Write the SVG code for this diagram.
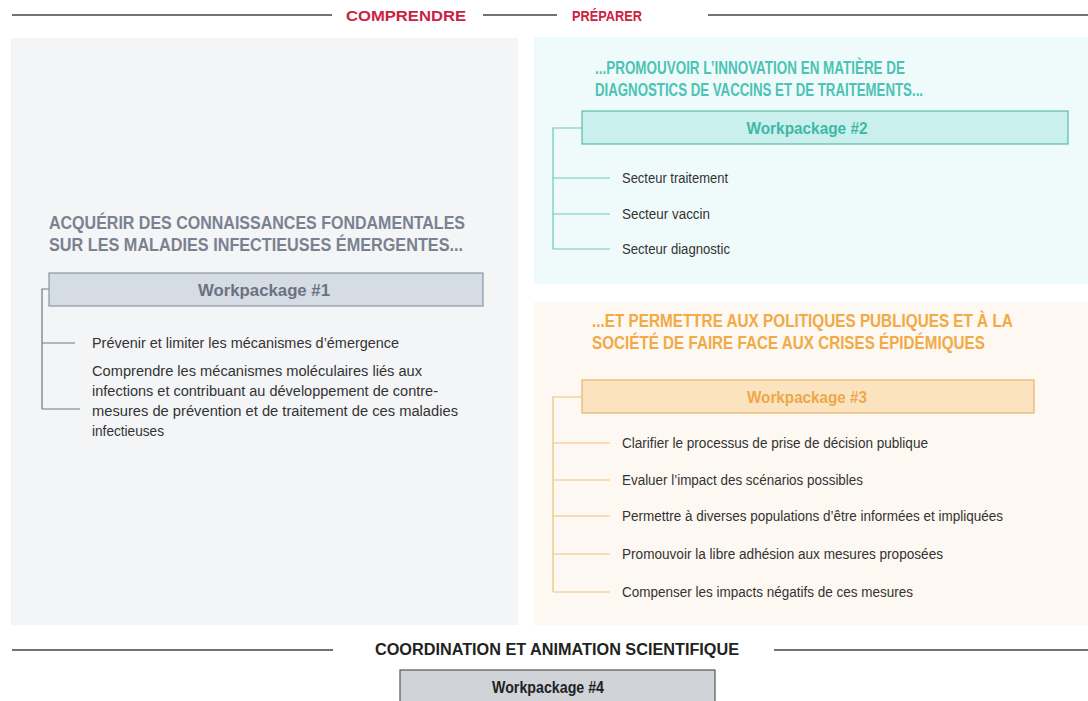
<svg xmlns="http://www.w3.org/2000/svg" width="1088" height="701" viewBox="0 0 1088 701">
<style>
.t{font-family:"Liberation Sans Narrow","Liberation Sans",Arial,sans-serif}
.sec{font-size:15px;font-weight:bold;fill:#cc2142}
.head{font-size:19px;font-weight:bold}
.wp{font-size:17px;font-weight:bold;text-anchor:middle}
.item{font-size:14px;fill:#333}
.ln{stroke:#444;stroke-width:1.3;fill:none}
</style>
<rect width="1088" height="701" fill="#ffffff"/>
<g id="panels">
<rect x="11" y="38" width="507" height="587" fill="#f4f5f7"/>
<rect x="534" y="37" width="554" height="247" fill="#effbfa"/>
<rect x="534" y="302" width="554" height="323" fill="#fdf8f1"/>
</g>
<g id="section-titles">
<line class="ln" x1="12" y1="15" x2="332" y2="15"/>
<text class="t sec" x="346" y="21" textLength="120" lengthAdjust="spacingAndGlyphs">COMPRENDRE</text>
<line class="ln" x1="483" y1="15" x2="557" y2="15"/>
<text class="t sec" x="572" y="21" textLength="70" lengthAdjust="spacingAndGlyphs">PRÉPARER</text>
<line class="ln" x1="708" y1="15" x2="1088" y2="15"/>
<line class="ln" x1="12" y1="650" x2="333" y2="650"/>
<text class="t" x="375" y="655" font-size="16" font-weight="bold" fill="#222" textLength="364" lengthAdjust="spacingAndGlyphs">COORDINATION ET ANIMATION SCIENTIFIQUE</text>
<line class="ln" x1="774" y1="650" x2="1088" y2="650"/>
</g>
<g id="connectors" fill="none">
<path d="M49 289 H42 V409 M42 343 H75 M42 409 H80" stroke="#6f7888" stroke-width="1.2"/>
<path d="M582 128 H553 V249 M553 178 H610 M553 214 H610 M553 249 H610" stroke="#6cc7bd" stroke-width="1.2"/>
<path d="M582 397 H553 V592 M553 443 H610 M553 480 H610 M553 516 H610 M553 554 H610 M553 592 H610" stroke="#efc27a" stroke-width="1.2"/>
</g>
<g id="wp1">
<text class="t head" x="49" y="229" fill="#7a8290" textLength="416" lengthAdjust="spacingAndGlyphs">ACQUÉRIR DES CONNAISSANCES FONDAMENTALES</text>
<text class="t head" x="49" y="251" fill="#7a8290" textLength="414" lengthAdjust="spacingAndGlyphs">SUR LES MALADIES INFECTIEUSES ÉMERGENTES...</text>
<rect x="49" y="273" width="434" height="33" fill="#d6dce4" stroke="#8a95a5" stroke-width="1.2"/>
<text class="t wp" x="264" y="296" fill="#6b7280" textLength="132" lengthAdjust="spacingAndGlyphs">Workpackage #1</text>
<text class="t item" x="92" y="348" textLength="307" lengthAdjust="spacingAndGlyphs">Prévenir et limiter  les mécanismes  d’émergence</text>
<text class="t item" x="92" y="376" textLength="330" lengthAdjust="spacingAndGlyphs">Comprendre les mécanismes  moléculaires  liés aux</text>
<text class="t item" x="92" y="396" textLength="346" lengthAdjust="spacingAndGlyphs">infections  et contribuant  au développement de contre-</text>
<text class="t item" x="92" y="416" textLength="366" lengthAdjust="spacingAndGlyphs">mesures  de prévention et de traitement  de ces maladies</text>
<text class="t item" x="92" y="436" textLength="72" lengthAdjust="spacingAndGlyphs">infectieuses</text>
</g>
<g id="wp2">
<text class="t head" x="595" y="74" fill="#4cc3b5" textLength="310" lengthAdjust="spacingAndGlyphs">...PROMOUVOIR L’INNOVATION EN MATIÈRE DE</text>
<text class="t head" x="595" y="96" fill="#4cc3b5" textLength="328" lengthAdjust="spacingAndGlyphs">DIAGNOSTICS DE VACCINS ET DE TRAITEMENTS...</text>
<rect x="582" y="111" width="486" height="33" fill="#c9f0ec" stroke="#5fb8ae" stroke-width="1.2"/>
<text class="t wp" x="807" y="134" fill="#3fb8a8" textLength="121" lengthAdjust="spacingAndGlyphs">Workpackage #2</text>
<text class="t item" x="622" y="183" textLength="106" lengthAdjust="spacingAndGlyphs">Secteur traitement</text>
<text class="t item" x="622" y="219" textLength="88" lengthAdjust="spacingAndGlyphs">Secteur vaccin</text>
<text class="t item" x="622" y="254" textLength="108" lengthAdjust="spacingAndGlyphs">Secteur diagnostic</text>
</g>
<g id="wp3">
<text class="t head" transform="translate(592 327) scale(0.8 1)" fill="#f1aa45" textLength="526" lengthAdjust="spacingAndGlyphs">...ET PERMETTRE AUX POLITIQUES PUBLIQUES ET À LA</text>
<text class="t head" transform="translate(592 349) scale(0.8 1)" fill="#f1aa45" textLength="491" lengthAdjust="spacingAndGlyphs">SOCIÉTÉ DE FAIRE FACE AUX CRISES ÉPIDÉMIQUES</text>
<rect x="582" y="380" width="452" height="33" fill="#fbe3c0" stroke="#e8b56a" stroke-width="1.2"/>
<text class="t wp" x="807" y="403" fill="#eea848" textLength="120" lengthAdjust="spacingAndGlyphs">Workpackage #3</text>
<text class="t item" x="622" y="448" textLength="306" lengthAdjust="spacingAndGlyphs">Clarifier  le processus  de prise de décision  publique</text>
<text class="t item" x="622" y="485" textLength="241" lengthAdjust="spacingAndGlyphs">Evaluer l’impact  des scénarios possibles</text>
<text class="t item" x="622" y="521" textLength="381" lengthAdjust="spacingAndGlyphs">Permettre  à diverses populations  d’être informées  et impliquées</text>
<text class="t item" x="622" y="559" textLength="321" lengthAdjust="spacingAndGlyphs">Promouvoir la libre adhésion aux mesures  proposées</text>
<text class="t item" x="622" y="597" textLength="291" lengthAdjust="spacingAndGlyphs">Compenser les impacts  négatifs de ces mesures</text>
</g>
<g id="wp4">
<rect x="400" y="670" width="315" height="40" fill="#d0d3d8" stroke="#555" stroke-width="1.2"/>
<text class="t wp" x="548" y="693" fill="#222" textLength="112" lengthAdjust="spacingAndGlyphs">Workpackage #4</text>
</g>
</svg>
